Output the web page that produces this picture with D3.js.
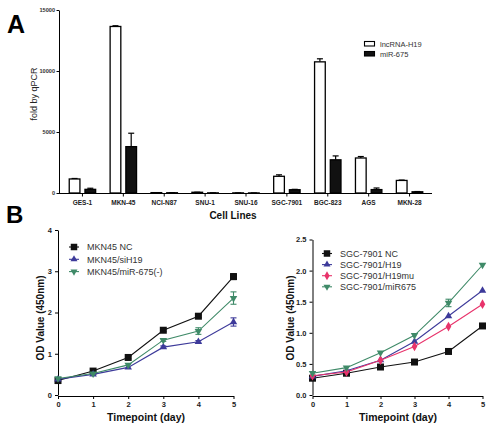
<!DOCTYPE html>
<html><head><meta charset="utf-8">
<script src="https://cdn.jsdelivr.net/npm/d3@7"></script>
<style>
body{margin:0;background:#fff;}
svg{display:block;font-family:Arial,"Liberation Sans",sans-serif;}
</style></head>
<body><svg id="c" width="500" height="428"></svg>
<script>
// ---- Panel A data ----
const cellLines = ["GES-1","MKN-45","NCI-N87","SNU-1","SNU-16","SGC-7901","BGC-823","AGS","MKN-28"];
const seriesA = ["lncRNA-H19","miR-675"];
const h19Values = [1150, 13650, 30, 60, 10, 1370, 10750, 2870, 1030];
const h19Err    = [40, 60, 5, 5, 2, 120, 250, 120, 30];
const mirValues = [300, 3800, 20, 10, 5, 270, 2720, 280, 100];
const mirErr    = [90, 1100, 3, 2, 1, 30, 320, 130, 20];
const yTicksA = [0, 5000, 10000, 15000];

// ---- Panel B data ----
const days = [0,1,2,3,4,5];
const leftSeries = ["MKN45 NC","MKN45/siH19","MKN45/miR-675(-)"];
const mkn45NC   = [0.35, 0.58, 0.91, 1.57, 1.91, 2.87];
const mkn45NCErr = [0.02, 0.02, 0.03, 0.03, 0.03, 0.07];
const mkn45siH19 = [0.38, 0.50, 0.67, 1.16, 1.29, 1.77];
const mkn45siH19Err = [0.02, 0.02, 0.02, 0.03, 0.03, 0.10];
const mkn45mir  = [0.40, 0.52, 0.73, 1.33, 1.55, 2.35];
const mkn45mirErr = [0.02, 0.02, 0.02, 0.03, 0.08, 0.15];
const yTicksL = [0,1,2,3,4];

const rightSeries = ["SGC-7901 NC","SGC-7901/H19","SGC-7901/H19mu","SGC-7901/miR675"];
const sgcNC   = [0.27, 0.35, 0.45, 0.53, 0.70, 1.11];
const sgcH19  = [0.30, 0.39, 0.56, 0.86, 1.27, 1.68];
const sgcH19mu = [0.31, 0.37, 0.56, 0.78, 1.10, 1.46];
const sgcMir  = [0.35, 0.44, 0.68, 0.96, 1.48, 2.09];
const sgcMirErr = [0.01, 0.01, 0.01, 0.02, 0.06, 0.02];
const yTicksR = [0, 0.5, 1.0, 1.5, 2.0, 2.5];

const svg = d3.select("#c");

// ================= Panel A =================
const xA = d3.scaleBand().domain(cellLines).range([62, 430]);
const xInner = d3.scaleBand().domain(seriesA).range([0, xA.bandwidth()]).paddingInner(0.32).paddingOuter(0.46);
const yA = d3.scaleLinear().domain([0, 15000]).range([193, 10]);

const gA = svg.append("g");
// y axis
gA.append("g").attr("transform","translate(59,0)")
  .call(d3.axisLeft(yA).tickValues(yTicksA).tickSize(2.5).tickSizeOuter(0).tickPadding(1.5).tickFormat(d3.format("d")))
  .call(g=>g.selectAll("text").attr("font-size",5.6).attr("font-weight","bold").attr("fill","#333"));
// x axis
gA.append("line").attr("x1",59).attr("x2",432).attr("y1",193.5).attr("y2",193.5).attr("stroke","#000");
gA.append("g").attr("transform","translate(0,193.5)")
  .call(d3.axisBottom(xA).tickSize(3).tickSizeOuter(0).tickPadding(4))
  .call(g=>g.select(".domain").remove())
  .call(g=>g.selectAll("text").attr("font-size",6.5).attr("font-weight","bold").attr("fill","#222"));

const barData = [];
cellLines.forEach((c,i)=>{
  barData.push({c, s:seriesA[0], v:h19Values[i], e:h19Err[i]});
  barData.push({c, s:seriesA[1], v:mirValues[i], e:mirErr[i]});
});
const fillA = {"lncRNA-H19":"#fff","miR-675":"#111"};
// error bars
barData.forEach(d=>{
  const cx = xA(d.c)+xInner(d.s)+xInner.bandwidth()/2;
  const yTop = yA(d.v+d.e);
  gA.append("line").attr("x1",cx).attr("x2",cx).attr("y1",yA(d.v)).attr("y2",yTop).attr("stroke","#000").attr("stroke-width",1.2);
  gA.append("line").attr("x1",cx-3).attr("x2",cx+3).attr("y1",yTop).attr("y2",yTop).attr("stroke","#000").attr("stroke-width",1.2);
});
gA.selectAll("rect.bar").data(barData).join("rect")
  .attr("x",d=>xA(d.c)+xInner(d.s)).attr("width",xInner.bandwidth())
  .attr("y",d=>yA(d.v)).attr("height",d=>193-yA(d.v))
  .attr("fill",d=>fillA[d.s]).attr("stroke","#000").attr("stroke-width",1.3);

// legend A
seriesA.forEach((s,i)=>{
  const y = 41.5 + i*10;
  gA.append("rect").attr("x",364.5).attr("y",y).attr("width",10).attr("height",4.5)
    .attr("fill",fillA[s]).attr("stroke","#000").attr("stroke-width",1.1);
  gA.append("text").attr("x",380).attr("y",y+5).attr("font-size",7.5).attr("fill","#333").text(s);
});
gA.append("text").attr("transform","translate(36.5,94) rotate(-90)").attr("text-anchor","middle")
  .attr("font-size",9).attr("fill","#222").text("fold by qPCR");
gA.append("text").attr("x",233).attr("y",219).attr("text-anchor","middle")
  .attr("font-size",10).attr("font-weight","bold").attr("fill","#111").text("Cell Lines");
svg.append("text").attr("x",7).attr("y",33).attr("font-size",25).attr("font-weight","bold").text("A");
svg.append("text").attr("x",6).attr("y",223).attr("font-size",24).attr("font-weight","bold").text("B");

// ================= Panel B helpers =================
function shape(type, size){
  const s = size;
  if(type==="square") return d3.symbol().type(d3.symbolSquare).size(s*s)();
  if(type==="tri") return d3.symbol().type(d3.symbolTriangle).size(s*s*0.5)();
  if(type==="tridown") return d3.symbol().type(d3.symbolTriangle).size(s*s*0.5)();
  if(type==="diamond") return d3.symbol().type(d3.symbolDiamond).size(s*s*0.55)();
}
function drawPanel(g, x, y, series, xLabelPos, yLabelPos, yTicks, fmt){
  g.append("g").attr("transform",`translate(${x.range()[0]},0)`)
    .call(d3.axisLeft(y).tickValues(yTicks).tickSize(3).tickSizeOuter(0).tickFormat(fmt))
    .call(a=>a.selectAll("text").attr("font-size",7.5).attr("font-weight","bold").attr("fill","#222"));
  g.append("g").attr("transform",`translate(0,${y.range()[0]+1})`)
    .call(d3.axisBottom(x).tickValues(days).tickSize(3).tickSizeOuter(0).tickFormat(d3.format("d")))
    .call(a=>a.selectAll("text").attr("font-size",7.5).attr("font-weight","bold").attr("fill","#222"));
  const line = d3.line().x((d,i)=>x(days[i])).y(d=>y(d));
  series.forEach(s=>{
    g.append("path").datum(s.values).attr("d",line).attr("fill","none").attr("stroke",s.color).attr("stroke-width",1.1);
    if(s.err){
      s.values.forEach((v,i)=>{
        const e = s.err[i]; if(e<0.03) return;
        const cx = x(days[i]);
        g.append("line").attr("x1",cx).attr("x2",cx).attr("y1",y(v-e)).attr("y2",y(v+e)).attr("stroke",s.color).attr("stroke-width",1.1);
        [v-e,v+e].forEach(w=>g.append("line").attr("x1",cx-3).attr("x2",cx+3).attr("y1",y(w)).attr("y2",y(w)).attr("stroke",s.color).attr("stroke-width",1.1));
      });
    }
    g.selectAll(null).data(s.values).join("path")
      .attr("d",shape(s.shape,7))
      .attr("transform",(d,i)=>`translate(${x(days[i])},${y(d)})${s.shape==="tridown"?" rotate(180)":""}`)
      .attr("fill",s.color);
  });
  g.append("text").attr("x",xLabelPos[0]).attr("y",xLabelPos[1]).attr("text-anchor","middle")
    .attr("font-size",10.5).attr("font-weight","bold").attr("fill","#111").text("Timepoint (day)");
  g.append("text").attr("transform",`translate(${yLabelPos[0]},${yLabelPos[1]}) rotate(-90)`).attr("text-anchor","middle")
    .attr("font-size",10).attr("font-weight","bold").attr("fill","#111").text("OD Value (450nm)");
}
function drawLegend(g, series, x0, y0, dy){
  series.forEach((s,i)=>{
    const y = y0 + i*dy;
    g.append("line").attr("x1",x0-5).attr("x2",x0+5).attr("y1",y).attr("y2",y).attr("stroke",s.color).attr("stroke-width",1.1);
    g.append("path").attr("d",shape(s.shape,6.5))
      .attr("transform",`translate(${x0},${y})${s.shape==="tridown"?" rotate(180)":""}`).attr("fill",s.color);
    g.append("text").attr("x",x0+13).attr("y",y+3.2).attr("font-size",9).attr("fill","#333").text(s.name);
  });
}

// ================= Panel B left =================
const xL = d3.scaleLinear().domain([0,5]).range([58,233.5]);
const yL = d3.scaleLinear().domain([0,4]).range([395,230]);
const leftData = [
  {name:leftSeries[0], values:mkn45NC, err:mkn45NCErr, color:"#111", shape:"square"},
  {name:leftSeries[1], values:mkn45siH19, err:mkn45siH19Err, color:"#3d3a9a", shape:"tri"},
  {name:leftSeries[2], values:mkn45mir, err:mkn45mirErr, color:"#3f8a68", shape:"tridown"}
];
const gL = svg.append("g");
drawPanel(gL, xL, yL, leftData, [146,421], [44,318], yTicksL, d3.format("d"));
drawLegend(gL, leftData, 74, 247, 12.3);

// ================= Panel B right =================
const xR = d3.scaleLinear().domain([0,5]).range([312.5,482.5]);
const yR = d3.scaleLinear().domain([0,2.5]).range([395,239.5]);
const rightData = [
  {name:rightSeries[0], values:sgcNC, color:"#111", shape:"square"},
  {name:rightSeries[1], values:sgcH19, color:"#3d3a9a", shape:"tri"},
  {name:rightSeries[2], values:sgcH19mu, color:"#e8336b", shape:"diamond"},
  {name:rightSeries[3], values:sgcMir, err:sgcMirErr, color:"#3f8a68", shape:"tridown"}
];
const gR = svg.append("g");
drawPanel(gR, xR, yR, rightData, [398,421], [294,318], yTicksR, d3.format(".1f"));
drawLegend(gR, rightData, 327, 253.5, 11.1);
</script></body></html>
